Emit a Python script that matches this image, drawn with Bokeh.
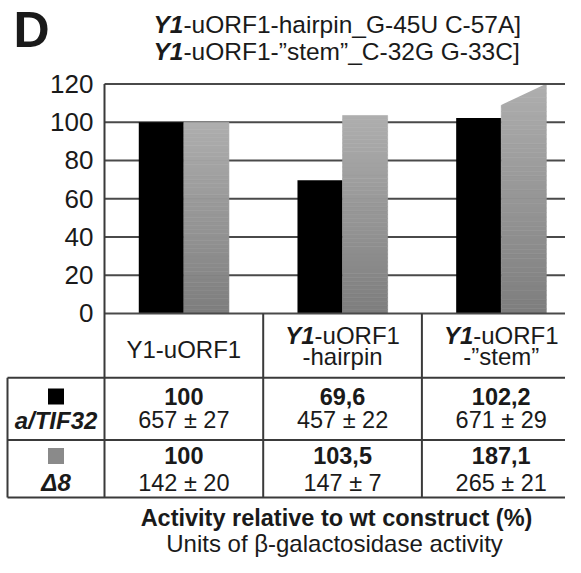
import numpy as np
from bokeh.plotting import figure
from bokeh.models import Range1d, LinearAxis, FixedTicker
from bokeh.core.properties import value
from bokeh.embed import file_html
from bokeh.resources import INLINE

# ---------------- data ----------------
categories = ["Y1-uORF1", "Y1-uORF1-hairpin", "Y1-uORF1-\u201dstem\u201d"]
series_names = ["a/TIF32", "\u03948"]
series_colors = ["#000000", "#8a8a8a"]
tif32_values = [100, 69.6, 102.2]
d8_values = [100, 103.5, 187.1]
tif32_units = ["657 \u00b1 27", "457 \u00b1 22", "671 \u00b1 29"]
d8_units = ["142 \u00b1 20", "147 \u00b1 7", "265 \u00b1 21"]
y_ticks = [0, 20, 40, 60, 80, 100, 120]
header_bold = ["", "Y1", "Y1"]
header_line1 = ["Y1-uORF1", "-uORF1", "-uORF1"]
header_line2 = ["", "-hairpin", "-\u201dstem\u201d"]
title_bold = "Y1"
title_rest = ["-uORF1-hairpin_G-45U C-57A]", "-uORF1-\u201dstem\u201d_C-32G G-33C]"]
panel_letter = "D"
footer_bold = "Activity relative to wt construct (%)"
footer_plain = "Units of \u03b2-galactosidase activity"

# ---------------- layout helpers (reference pixel layout -> data coords) ----------------
PX_U = 158.7   # px per category
PX_V = 1.933   # px per percent
W, H = 565, 557
YA, YB = 0.28, 0.9895   # vertical fit of the layout into the figure


def ux(px):
    return -0.5 + (px - 104) / PX_U


def vy(py):
    return (316 - py) / PX_V


FONT = "Liberation Sans"
TXT = "#1a1a1a"
GRID = "#4a4a4a"
LINE = "#3a3a3a"

p = figure(width=W, height=H,
           x_range=Range1d(ux(0), ux(W)),
           y_range=Range1d(vy((H - YA) / YB), vy(-YA / YB)),
           x_axis_type=None, y_axis_type=None,
           output_backend="svg", toolbar_location=None,
           min_border=0, outline_line_color=None,
           background_fill_color="white", border_fill_color="white")

yaxis = LinearAxis(fixed_location=ux(104), ticker=FixedTicker(ticks=y_ticks),
                   axis_line_color=None, major_tick_line_color=None,
                   minor_tick_line_color=None, major_label_standoff=5,
                   major_label_text_font=FONT, major_label_text_font_size="26px",
                   major_label_text_color=TXT)
p.add_layout(yaxis, "left")

n_cat = len(categories)
xc = np.arange(n_cat, dtype=float)
bw = 0.284
ymax = y_ticks[-1]

# inner gridlines (behind bars)
inner = [t for t in y_ticks if 0 < t < ymax]
p.segment(x0=ux(104), x1=ux(582), y0=inner, y1=inner, line_color=GRID, line_width=2)

# a/TIF32 bars (black)
p.vbar(x=xc - bw / 2, width=bw, top=tif32_values, bottom=0,
       fill_color=series_colors[0], line_color=None)

# delta8 bars (grey gradient, built from slices)
N = 50
L, R, B, T, C = [], [], [], [], []
for i, v in enumerate(d8_values):
    top = min(v, ymax)
    for j in range(N):
        f = (j + 0.5) / N
        g = int(round(126 + (174 - 126) * f))
        L.append(xc[i])
        R.append(xc[i] + bw)
        B.append(top * j / N)
        T.append(top * (j + 1) / N)
        C.append("#%02x%02x%02x" % (g, g, g))
p.quad(left=L, right=R, bottom=B, top=T, fill_color=C, line_color=C, line_width=0.6)

# axis break for values beyond the axis maximum
for i, v in enumerate(d8_values):
    if v > ymax:
        l = xc[i] - 0.01
        r = xc[i] + bw + 0.01
        p.patch([l, l, r], [vy(106), ymax + 0.5, ymax + 0.5], fill_color="white", line_color=None)

# edge lines: top (120) and baseline (0)
edges = [0, ymax]
p.segment(x0=ux(104), x1=ux(582), y0=edges, y1=edges, line_color=GRID, line_width=2)

# ---------------- table ----------------
row_bottoms = [vy(381), vy(444), vy(502)]
p.segment(x0=ux(7), x1=ux(582), y0=row_bottoms, y1=row_bottoms, line_color=LINE, line_width=2)
p.segment(x0=[ux(7)], x1=[ux(7)], y0=[vy(381)], y1=[vy(502)], line_color=LINE, line_width=2)
p.segment(x0=[ux(104)], x1=[ux(104)], y0=[ymax], y1=[vy(502)], line_color=LINE, line_width=2)
seps = list(xc[:-1] + 0.5)
p.segment(x0=seps, x1=seps, y0=0, y1=vy(502), line_color=LINE, line_width=2)

common = dict(text_font=value(FONT), text_color=TXT, text_baseline="middle")

# header cells
p.text(x=[xc[0]], y=[vy(352.7)], text=[header_line1[0]], text_align="center",
       text_font_size="24px", **common)
two = [i for i in range(n_cat) if header_bold[i]]
w_bold = 1.223 * 24
w_rest = 3.556 * 24
off = -(w_rest - w_bold) / 2
p.text(x=[xc[i] for i in two], y=vy(338.5), text=[header_bold[i] for i in two],
       text_align="right", x_offset=off, text_font_size="24px",
       text_font_style="bold italic", **common)
p.text(x=[xc[i] for i in two], y=vy(338.5), text=[header_line1[i] for i in two],
       text_align="left", x_offset=off, text_font_size="24px", **common)
p.text(x=[xc[i] for i in two], y=vy(359.5), text=[header_line2[i] for i in two],
       text_align="center", text_font_size="24px", **common)


def fmt(v):
    return f"{v:g}".replace(".", ",")


p.text(x=xc, y=vy(400), text=[fmt(v) for v in tif32_values], text_align="center",
       text_font_size="23.5px", text_font_style="bold", **common)
p.text(x=xc, y=vy(423.5), text=tif32_units, text_align="center",
       text_font_size="23.5px", **common)
p.text(x=xc, y=vy(460), text=[fmt(v) for v in d8_values], text_align="center",
       text_font_size="23.5px", text_font_style="bold", **common)
p.text(x=xc, y=vy(487), text=d8_units, text_align="center",
       text_font_size="23.5px", **common)

# series labels (legend column)
lc = (ux(7) + ux(104)) / 2
p.scatter(x=[lc, lc], y=[vy(400), vy(460)], marker="square", size=16,
          fill_color=series_colors, line_color=None)
p.text(x=[lc, lc], y=[vy(424), vy(487)], text=series_names, text_align="center",
       text_font_size="24px", text_font_style="bold italic", **common)

# ---------------- titles ----------------
p.text(x=[ux(31)], y=[vy(29.5)], text=[panel_letter], text_align="center",
       text_font_size="50px", text_font_style="bold", **common)
tx = ux(153)
ty = [vy(23.5), vy(51)]
p.text(x=[tx, tx], y=ty, text=[title_bold, title_bold], text_align="left",
       text_font_size="24.5px", text_font_style="bold italic", **common)
p.text(x=[tx, tx], y=ty, text=title_rest, text_align="left", x_offset=1.223 * 24.5,
       text_font_size="24.5px", **common)

# ---------------- footer ----------------
p.text(x=[ux(336)], y=[vy(523)], text=[footer_bold], text_align="center",
       text_font_size="23.5px", text_font_style="bold", **common)
p.text(x=[ux(334)], y=[vy(548.3)], text=[footer_plain], text_align="center",
       text_font_size="24px", **common)

open("out.html", "w").write(file_html(p, INLINE))
